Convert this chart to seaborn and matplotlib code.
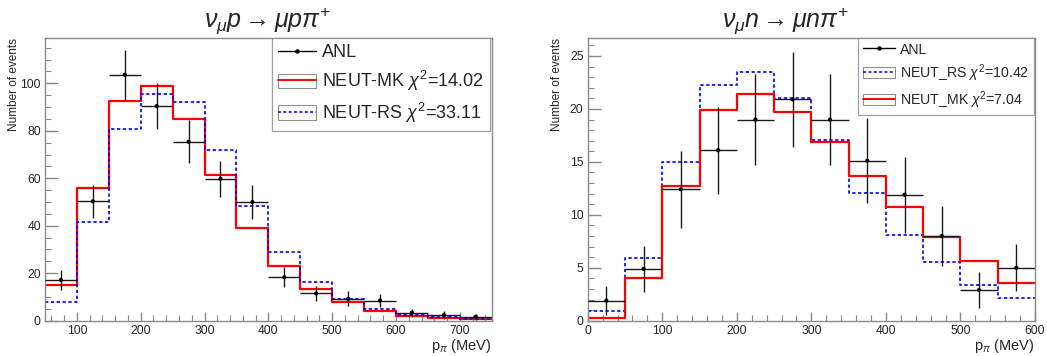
import numpy as np
import pandas as pd
import seaborn as sns
import matplotlib.pyplot as plt
from matplotlib.lines import Line2D
from matplotlib.patches import Rectangle
from matplotlib.ticker import MultipleLocator

sns.set_style('ticks')
plt.rcParams['font.family'] = ['Liberation Sans', 'DejaVu Sans']
plt.rcParams['mathtext.fontset'] = 'custom'
plt.rcParams['mathtext.rm'] = 'Liberation Sans'
plt.rcParams['mathtext.it'] = 'Liberation Sans:italic'

# left panel: nu_mu p -> mu p pi+
P_EDGES = np.arange(50, 751, 50)
P_ANL = [17.2, 50.3, 103.6, 90.4, 75.4, 59.8, 50.0, 18.3, 11.5, 9.2, 8.5, 3.4, 2.4, 1.7]
P_ANL_ERR = [4.2, 7.0, 10.5, 9.7, 9.0, 7.5, 7.2, 4.3, 3.3, 3.2, 2.9, 1.7, 1.5, 1.2]
P_MK = [15.2, 55.9, 92.4, 99.0, 85.1, 61.4, 39.0, 23.0, 13.5, 7.9, 4.2, 2.1, 1.3, 0.6]
P_RS = [8.0, 41.4, 80.7, 95.3, 92.3, 72.0, 48.2, 29.0, 16.5, 9.0, 4.9, 2.5, 1.4, 0.7]

# right panel: nu_mu n -> mu n pi+
N_EDGES = np.arange(0, 601, 50)
N_ANL = [1.9, 4.9, 12.4, 16.1, 19.0, 20.9, 19.0, 15.1, 11.9, 8.0, 2.9, 5.0]
N_ANL_ERR = [1.35, 2.2, 3.6, 4.1, 4.3, 4.5, 4.3, 4.0, 3.6, 2.8, 1.7, 2.2]
N_RS = [0.95, 5.9, 15.0, 22.3, 23.5, 21.0, 17.05, 12.1, 8.1, 5.5, 3.4, 2.1]
N_MK = [0.3, 4.0, 12.7, 19.9, 21.4, 19.7, 16.9, 13.7, 10.7, 7.95, 5.6, 3.6]

W, H = 1047, 356
RED = '#ff0000'
BLUE = '#0000ff'
GREY = '#8a8a8a'


def step_df(edges, vals):
    return pd.DataFrame({'x': edges, 'y': list(vals) + [vals[-1]]})


def draw_hist(ax, edges, vals, color, ls, lw):
    sns.lineplot(data=step_df(edges, vals), x='x', y='y', ax=ax,
                 drawstyle='steps-post', estimator=None, sort=False,
                 color=color, linestyle=ls, linewidth=lw)


def draw_data(ax, edges, vals, errs):
    centers = (edges[:-1] + edges[1:]) / 2
    ax.errorbar(centers, vals, yerr=errs, xerr=np.diff(edges) / 2,
                fmt='none', ecolor='#1a1a1a', elinewidth=1.0, capsize=0, zorder=5)
    sns.scatterplot(x=centers, y=vals, ax=ax, color='black', s=9,
                    edgecolor='none', zorder=6)


def style_axes(ax, xlim, ylim, xmaj, xmin, ymaj, ymin):
    ax.set_xlim(*xlim)
    ax.set_ylim(*ylim)
    ax.xaxis.set_major_locator(MultipleLocator(xmaj))
    ax.xaxis.set_minor_locator(MultipleLocator(xmin))
    ax.yaxis.set_major_locator(MultipleLocator(ymaj))
    ax.yaxis.set_minor_locator(MultipleLocator(ymin))
    ax.tick_params(which='both', direction='in', color=GREY, labelsize=8.7,
                   top=False, right=False, pad=3)
    ax.tick_params(axis='y', which='major', length=9, width=1)
    ax.tick_params(axis='y', which='minor', length=4.5, width=0.8)
    ax.tick_params(axis='x', which='major', length=6.5, width=1)
    ax.tick_params(axis='x', which='minor', length=4, width=0.8)
    for s in ax.spines.values():
        s.set_color(GREY)
        s.set_linewidth(1)
    ax.set_xlabel(r'p$_{\pi}$ (MeV)', fontsize=10.5, loc='right', va='center')
    ax.xaxis.set_label_coords(1.0, -0.09)
    ax.set_ylabel('Number of events', fontsize=8.5, loc='top')
    ax.yaxis.set_label_coords(-0.056, 1.0)


def legend(ax, labels, styles, anchor, fs, spacing, hlen, hh, bpad):
    handles = [Line2D([], [], color='black', lw=1, marker='o', markersize=2.2)]
    for color, ls, lw in styles:
        handles.append((Rectangle((0, 0), 1, 1, facecolor='white', edgecolor=GREY, lw=0.7),
                        Line2D([], [], color=color, ls=ls, lw=lw)))
    leg = ax.legend(handles, labels, loc='upper right', bbox_to_anchor=anchor,
                    bbox_transform=ax.figure.transFigure, fontsize=fs, frameon=True,
                    fancybox=False, borderaxespad=0, numpoints=1, handlelength=hlen,
                    handleheight=hh, labelspacing=spacing, borderpad=bpad,
                    handletextpad=0.35)
    leg.get_frame().set_edgecolor(GREY)
    leg.get_frame().set_linewidth(0.9)


fig = plt.figure(figsize=(W / 100, H / 100), dpi=100)
bottom = 1 - 320.7 / H
height = (320.7 - 38) / H
ax1 = fig.add_axes([45 / W, bottom, (491.7 - 45) / W, height])
ax2 = fig.add_axes([587.7 / W, bottom, (1035 - 587.7) / W, height])

draw_hist(ax1, P_EDGES, P_MK, RED, '-', 1.6)
draw_hist(ax1, P_EDGES, P_RS, BLUE, (0, (2, 1.5)), 1.2)
draw_data(ax1, P_EDGES, P_ANL, P_ANL_ERR)
style_axes(ax1, (50, 750), (0, 119.1), 100, 20, 20, 5)
legend(ax1, ['ANL', r'NEUT-MK $\chi^{2}$=14.02', r'NEUT-RS $\chi^{2}$=33.11'],
       [(RED, '-', 1.4), (BLUE, (0, (2, 1.5)), 1.1)],
       (490 / W, 1 - 38 / H), 13, 0.42, 2.1, 0.85, 0.33)

draw_hist(ax2, N_EDGES, N_RS, BLUE, (0, (2, 1.5)), 1.2)
draw_hist(ax2, N_EDGES, N_MK, RED, '-', 1.6)
draw_data(ax2, N_EDGES, N_ANL, N_ANL_ERR)
style_axes(ax2, (0, 600), (0, 26.7), 100, 20, 5, 1)
legend(ax2, ['ANL', r'NEUT_RS $\chi^{2}$=10.42', r'NEUT_MK $\chi^{2}$=7.04'],
       [(BLUE, (0, (2, 1.5)), 1.1), (RED, '-', 1.4)],
       (1034 / W, 1 - 38 / H), 10.2, 0.38, 2.3, 0.85, 0.33)

fig.text(267 / W, 1 - 20 / H, r'$\nu_{\mu}p \rightarrow \mu p \pi^{+}$',
         ha='center', va='center', fontsize=18)
fig.text(785 / W, 1 - 20 / H, r'$\nu_{\mu}n \rightarrow \mu n \pi^{+}$',
         ha='center', va='center', fontsize=18)

fig.savefig('out.png', dpi=100)
